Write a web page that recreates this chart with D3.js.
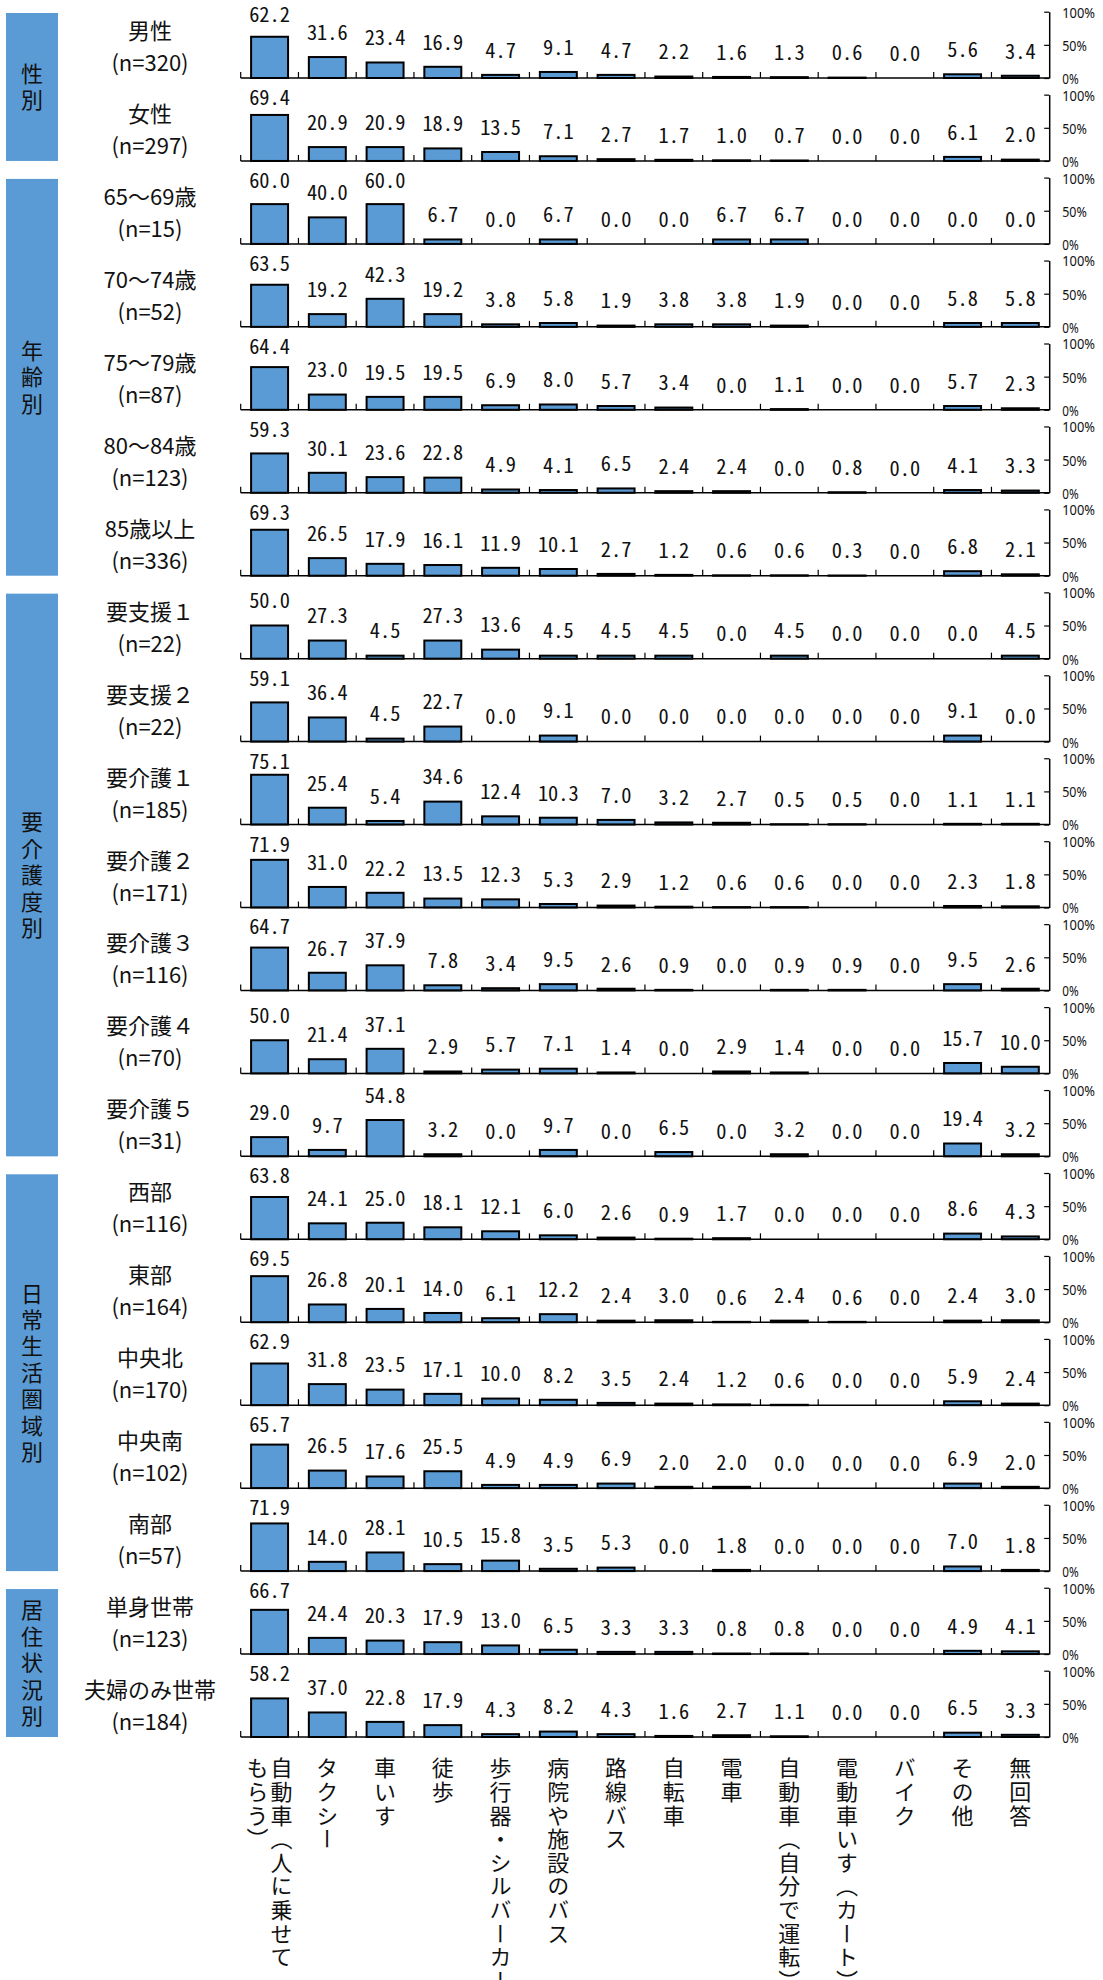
<!DOCTYPE html>
<html>
<head>
<meta charset="utf-8">
<script src="https://cdn.jsdelivr.net/npm/d3@7"></script>
<style>
  html, body { margin: 0; padding: 0; background: #fff; }
</style>
</head>
<body>
<div id="chart"></div>
<script>
// ---------------- DATA ----------------
const categories = ["自動車（人に乗せてもらう）","タクシー","車いす","徒歩","歩行器・シルバーカー","病院や施設のバス","路線バス","自転車","電車","自動車（自分で運転）","電動車いす（カート）","バイク","その他","無回答"];
// vertical label columns, right to left
const categoryColumns = [["自動車（人に乗せて","もらう）"],["タクシー"],["車いす"],["徒歩"],["歩行器・シルバーカー"],["病院や施設のバス"],["路線バス"],["自転車"],["電車"],["自動車（自分で運転）"],["電動車いす（カート）"],["バイク"],["その他"],["無回答"]];

const rowNames = ["男性","女性","65～69歳","70～74歳","75～79歳","80～84歳","85歳以上","要支援１","要支援２","要介護１","要介護２","要介護３","要介護４","要介護５","西部","東部","中央北","中央南","南部","単身世帯","夫婦のみ世帯"];
const rowN = [320,297,15,52,87,123,336,22,22,185,171,116,70,31,116,164,170,102,57,123,184];

const groupNames = ["性別","年齢別","要介護度別","日常生活圏域別","居住状況別"];
const groupSizes = [2,5,7,5,2];

const vMale      = [62.2,31.6,23.4,16.9,4.7,9.1,4.7,2.2,1.6,1.3,0.6,0.0,5.6,3.4];
const vFemale    = [69.4,20.9,20.9,18.9,13.5,7.1,2.7,1.7,1.0,0.7,0.0,0.0,6.1,2.0];
const vAge65     = [60.0,40.0,60.0,6.7,0.0,6.7,0.0,0.0,6.7,6.7,0.0,0.0,0.0,0.0];
const vAge70     = [63.5,19.2,42.3,19.2,3.8,5.8,1.9,3.8,3.8,1.9,0.0,0.0,5.8,5.8];
const vAge75     = [64.4,23.0,19.5,19.5,6.9,8.0,5.7,3.4,0.0,1.1,0.0,0.0,5.7,2.3];
const vAge80     = [59.3,30.1,23.6,22.8,4.9,4.1,6.5,2.4,2.4,0.0,0.8,0.0,4.1,3.3];
const vAge85     = [69.3,26.5,17.9,16.1,11.9,10.1,2.7,1.2,0.6,0.6,0.3,0.0,6.8,2.1];
const vSupport1  = [50.0,27.3,4.5,27.3,13.6,4.5,4.5,4.5,0.0,4.5,0.0,0.0,0.0,4.5];
const vSupport2  = [59.1,36.4,4.5,22.7,0.0,9.1,0.0,0.0,0.0,0.0,0.0,0.0,9.1,0.0];
const vCare1     = [75.1,25.4,5.4,34.6,12.4,10.3,7.0,3.2,2.7,0.5,0.5,0.0,1.1,1.1];
const vCare2     = [71.9,31.0,22.2,13.5,12.3,5.3,2.9,1.2,0.6,0.6,0.0,0.0,2.3,1.8];
const vCare3     = [64.7,26.7,37.9,7.8,3.4,9.5,2.6,0.9,0.0,0.9,0.9,0.0,9.5,2.6];
const vCare4     = [50.0,21.4,37.1,2.9,5.7,7.1,1.4,0.0,2.9,1.4,0.0,0.0,15.7,10.0];
const vCare5     = [29.0,9.7,54.8,3.2,0.0,9.7,0.0,6.5,0.0,3.2,0.0,0.0,19.4,3.2];
const vWest      = [63.8,24.1,25.0,18.1,12.1,6.0,2.6,0.9,1.7,0.0,0.0,0.0,8.6,4.3];
const vEast      = [69.5,26.8,20.1,14.0,6.1,12.2,2.4,3.0,0.6,2.4,0.6,0.0,2.4,3.0];
const vCenterN   = [62.9,31.8,23.5,17.1,10.0,8.2,3.5,2.4,1.2,0.6,0.0,0.0,5.9,2.4];
const vCenterS   = [65.7,26.5,17.6,25.5,4.9,4.9,6.9,2.0,2.0,0.0,0.0,0.0,6.9,2.0];
const vSouth     = [71.9,14.0,28.1,10.5,15.8,3.5,5.3,0.0,1.8,0.0,0.0,0.0,7.0,1.8];
const vSingle    = [66.7,24.4,20.3,17.9,13.0,6.5,3.3,3.3,0.8,0.8,0.0,0.0,4.9,4.1];
const vCouple    = [58.2,37.0,22.8,17.9,4.3,8.2,4.3,1.6,2.7,1.1,0.0,0.0,6.5,3.3];

const rowValues = [vMale,vFemale,vAge65,vAge70,vAge75,vAge80,vAge85,vSupport1,vSupport2,vCare1,vCare2,vCare3,vCare4,vCare5,vWest,vEast,vCenterN,vCenterS,vSouth,vSingle,vCouple];

const yTickValues = [0,50,100];
const yTickLabels = ["0%","50%","100%"];

// ---------------- LAYOUT ----------------
const W = 1103, H = 1980;
const BLUE = "#5b9bd5";
const fontJP = '"Noto Sans CJK JP","Noto Sans",sans-serif';
const fontNum = '"Noto Sans Mono CJK JP","DejaVu Sans Mono",monospace';
const fontTick = '"Liberation Sans Narrow","Noto Sans",sans-serif';

const svg = d3.select("#chart").append("svg")
  .attr("width", W).attr("height", H)
  .attr("viewBox", `0 0 ${W} ${H}`)
  .style("display","block")
  .style("background","#fff");

const x = d3.scaleBand().domain(categories)
  .range([240.7, 1049.2]).paddingInner(0.36).paddingOuter(0.18);
const step = x.step();
const rowBase = d3.scaleLinear().domain([0, rowValues.length - 1]).range([78, 1737]);
const PANEL_H = 66.3;

// group boxes
let start = 0;
groupNames.forEach((name, gi) => {
  const s = start, e = start + groupSizes[gi] - 1;
  start += groupSizes[gi];
  const top = rowBase(s) - 65, bot = rowBase(e);
  svg.append("rect").attr("x", 6).attr("y", top).attr("width", 52).attr("height", bot - top)
    .attr("fill", BLUE);
  svg.append("text")
    .attr("x", 32).attr("y", (top + bot) / 2 + 2)
    .style("writing-mode", "vertical-rl")
    .attr("text-anchor", "middle")
    .attr("font-family", fontJP).attr("font-size", 22)
    .attr("letter-spacing", 4.4)
    .attr("fill", "#111")
    .text(name);
});

// panels
rowValues.forEach((vals, i) => {
  const b = rowBase(i);
  const y = d3.scaleLinear().domain([0, 100]).range([b, b - PANEL_H]);
  const g = svg.append("g");

  // row label
  g.append("text").attr("x", 150).attr("y", b - 49)
    .attr("text-anchor", "middle").attr("dominant-baseline", "central")
    .attr("font-family", fontJP).attr("font-size", 22).attr("fill", "#111")
    .text(rowNames[i]);
  g.append("text").attr("x", 150).attr("y", b - 17)
    .attr("text-anchor", "middle").attr("dominant-baseline", "central")
    .attr("font-family", fontJP).attr("font-size", 22).attr("fill", "#111")
    .text(`(n=${rowN[i]})`);

  // bars
  g.selectAll("rect.bar").data(vals).join("rect").attr("class", "bar")
    .attr("x", (d, j) => x(categories[j]))
    .attr("width", x.bandwidth())
    .attr("y", d => y(d))
    .attr("height", d => b - y(d))
    .attr("fill", BLUE)
    .attr("stroke", d => d > 0 ? "#000" : "none")
    .attr("stroke-width", 2);

  // x baseline + boundary ticks
  g.append("line").attr("x1", x.range()[0]).attr("x2", x.range()[1])
    .attr("y1", b).attr("y2", b).attr("stroke", "#000").attr("stroke-width", 1.5);
  g.selectAll("line.xt").data(categories).join("line").attr("class", "xt")
    .attr("x1", c => x(c) - step * x.paddingInner() / 2)
    .attr("x2", c => x(c) - step * x.paddingInner() / 2)
    .attr("y1", b).attr("y2", b - 6)
    .attr("stroke", "#000").attr("stroke-width", 1.2);

  // right y axis
  const axis = d3.axisRight(y).tickValues(yTickValues)
    .tickFormat(d => yTickLabels[yTickValues.indexOf(d)])
    .tickSizeInner(-5).tickSizeOuter(0).tickPadding(13);
  const ag = g.append("g").attr("transform", `translate(${x.range()[1]},0)`).call(axis);
  ag.select(".domain").attr("stroke", "#000").attr("stroke-width", 1.5);
  ag.selectAll(".tick line").attr("stroke", "#000").attr("stroke-width", 1.2);
  ag.selectAll(".tick text")
    .attr("font-family", fontTick).attr("font-size", 15).attr("fill", "#111")
    .attr("dy", "0.36em")
    .each(function(d) {
      const t = yTickLabels[yTickValues.indexOf(d)];
      d3.select(this).attr("textLength", t.length * 8.2).attr("lengthAdjust", "spacingAndGlyphs");
    });

  // value labels
  g.selectAll("text.val").data(vals).join("text").attr("class", "val")
    .attr("x", (d, j) => x(categories[j]) + x.bandwidth() / 2)
    .attr("y", d => Math.max(y(d) - 24.5, b - PANEL_H + 3) + 7.3)
    .attr("text-anchor", "middle")
    .attr("font-family", fontNum).attr("font-size", 20).attr("fill", "#111")
    .attr("textLength", d => d.toFixed(1).length * 10.2)
    .attr("lengthAdjust", "spacingAndGlyphs")
    .text(d => d.toFixed(1));
});

// bottom category labels (vertical)
categories.forEach((c, j) => {
  const cols = categoryColumns[j];
  const cx = x(c) + x.bandwidth() / 2;
  cols.forEach((txt, k) => {
    svg.append("text")
      .attr("x", cx + ((cols.length - 1) / 2 - k) * 24)
      .attr("y", 1757)
      .style("writing-mode", "vertical-rl")
      .attr("text-anchor", "start")
      .attr("font-family", fontJP).attr("font-size", 22)
      .attr("letter-spacing", 1.6)
      .attr("fill", "#111")
      .text(txt);
  });
});
</script>
</body>
</html>
